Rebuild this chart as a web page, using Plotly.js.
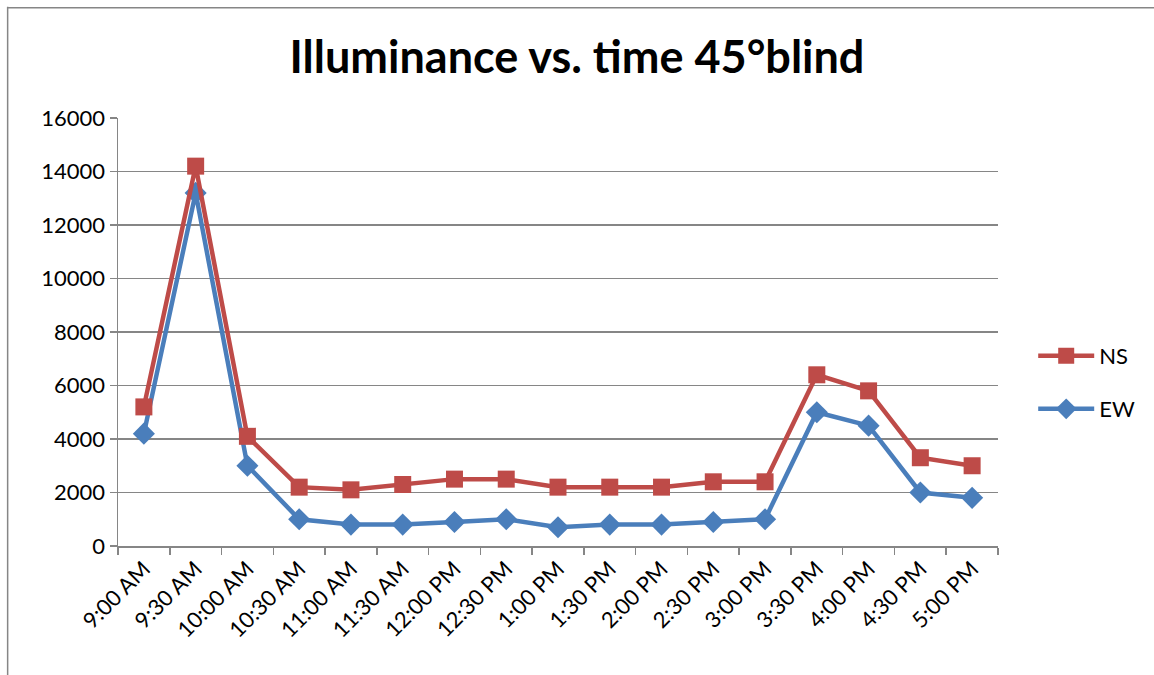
<!DOCTYPE html>
<html>
<head>
<meta charset="utf-8">
<script src="https://cdn.plot.ly/plotly-3.0.1.min.js"></script>
<style>html,body{margin:0;padding:0;background:#fff;}#chart{width:1154px;height:675px;}</style>
</head>
<body>
<div id="chart"></div>
<script>
const times = ["9:00 AM","9:30 AM","10:00 AM","10:30 AM","11:00 AM","11:30 AM","12:00 PM","12:30 PM","1:00 PM","1:30 PM","2:00 PM","2:30 PM","3:00 PM","3:30 PM","4:00 PM","4:30 PM","5:00 PM"];
const nsValues = [5200,14200,4100,2200,2100,2300,2500,2500,2200,2200,2200,2400,2400,6400,5800,3300,3000];
const ewValues = [4200,13200,3000,1000,800,800,900,1000,700,800,800,900,1000,5000,4500,2000,1800];
const yTicks = [0,2000,4000,6000,8000,10000,12000,14000,16000];

const font = "Lato, 'Open Sans', 'Liberation Sans', sans-serif";

const traces = [
  {x: times, y: ewValues, name: "EW", type: "scatter", mode: "lines+markers", legend: "legend2",
   line: {color: "#4a7ebb", width: 4.5},
   marker: {symbol: "diamond", size: 17, color: "#4a7ebb"}},
  {x: times, y: nsValues, name: "NS", type: "scatter", mode: "lines+markers", legend: "legend",
   line: {color: "#be4b48", width: 4.5},
   marker: {symbol: "square", size: 17, color: "#be4b48"}}
];

const legendCommon = {xanchor: "left", yanchor: "middle", font: {size: 22, family: font},
                      itemwidth: 56, bgcolor: "rgba(0,0,0,0)"};

const layout = {
  width: 1154, height: 675,
  margin: {l: 118, r: 156, t: 118, b: 129},
  paper_bgcolor: "#fff", plot_bgcolor: "#fff",
  font: {family: font, color: "#000", size: 22},
  title: {text: "<b>Illuminance vs. time 45°blind</b>", x: 0.5, xanchor: "center", y: 0.915, yanchor: "middle",
          font: {family: font, size: 45, color: "#000"}},
  xaxis: {type: "category", tickson: "boundaries", ticks: "outside", ticklen: 7, tickcolor: "#868686", tickwidth: 1.5,
          showline: true, linecolor: "#868686", linewidth: 1.5, showgrid: false, tickangle: -45,
          tickfont: {size: 22, family: font}, range: [-0.5, 16.5], fixedrange: true},
  yaxis: {range: [0, 16000], tickvals: yTicks, ticktext: yTicks.map(String), ticks: "outside", ticklen: 7, tickcolor: "#868686", tickwidth: 1.5,
          showline: true, linecolor: "#868686", linewidth: 1.5, showgrid: true, gridcolor: "#868686", gridwidth: 1.5,
          zeroline: false, tickfont: {size: 22, family: font}, fixedrange: true},
  showlegend: true,
  legend: Object.assign({x: 1.04, y: 0.444}, legendCommon),
  legend2: Object.assign({x: 1.04, y: 0.320}, legendCommon),
  shapes: [
    {type: "line", xref: "paper", yref: "paper", x0: -0.1254, x1: -0.1254, y0: -0.32, y1: 1.26, line: {color: "#868686", width: 1.5}},
    {type: "line", xref: "paper", yref: "paper", x0: -0.1254, x1: 1.2, y0: 1.2578, y1: 1.2578, line: {color: "#868686", width: 1.5}}
  ]
};

Plotly.newPlot("chart", traces, layout, {displayModeBar: false, staticPlot: true});
</script>
</body>
</html>
